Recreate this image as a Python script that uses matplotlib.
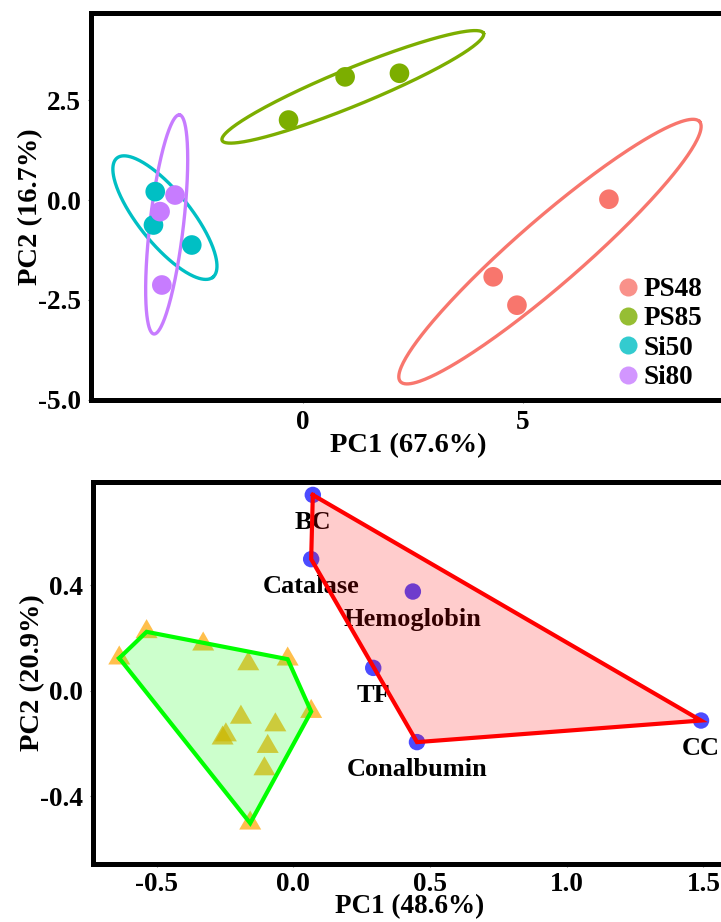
import matplotlib
matplotlib.use("Agg")
import matplotlib.pyplot as plt
from matplotlib.lines import Line2D
import numpy as np

plt.rcParams["font.family"] = ["Liberation Serif", "DejaVu Serif"]
plt.rcParams["font.weight"] = "bold"

# --- PCA of the four particle groups ---
groups = ["PS48", "PS85", "Si50", "Si80"]
group_colors = ["#F8766D", "#7CAE00", "#00BFC4", "#C77CFF"]
pc1 = {
    "PS48": [6.95, 4.32, 4.86],
    "PS85": [-0.33, 0.955, 2.19],
    "Si50": [-3.36, -3.40, -2.53],
    "Si80": [-2.91, -3.25, -3.21],
}
pc2 = {
    "PS48": [0.02, -1.92, -2.63],
    "PS85": [2.00, 3.08, 3.17],
    "Si50": [0.21, -0.625, -1.125],
    "Si80": [0.125, -0.29, -2.125],
}
# confidence ellipses: centre, end of major axis, end of minor axis
ell_center = {"PS48": (5.61, -1.29), "PS85": (1.13, 2.83), "Si50": (-3.14, -0.44), "Si80": (-3.10, -0.61)}
ell_major = {"PS48": (9.01, 1.96), "PS85": (4.10, 4.17), "Si50": (-2.05, -1.93), "Si80": (-2.81, 2.13)}
ell_minor = {"PS48": (5.12, -0.67), "PS85": (0.97, 3.26), "Si50": (-2.68, -0.03), "Si80": (-2.72, -0.65)}

# --- PCA of the protein corona ---
proteins = ["BC", "Catalase", "Hemoglobin", "TF", "Conalbumin", "CC"]
prot_pc1 = [0.071, 0.065, 0.437, 0.292, 0.452, 1.491]
prot_pc2 = [0.744, 0.500, 0.377, 0.087, -0.195, -0.113]
prot_hull = [0, 5, 4, 1]

other_pc1 = [-0.637, -0.537, -0.330, -0.021, -0.165, 0.065, -0.192, -0.066, -0.259, -0.247, -0.094, -0.106, -0.158]
other_pc2 = [0.124, 0.224, 0.177, 0.120, 0.102, -0.079, -0.101, -0.130, -0.180, -0.168, -0.212, -0.297, -0.503]
other_hull = [0, 1, 3, 5, 12]

TICK_FS = 19.5
LABEL_FS = 20.5

fig = plt.figure(figsize=(7.21, 9.22), dpi=100)
ax1 = fig.add_axes([0.1262, 0.5662, 0.8807, 0.4194])
ax2 = fig.add_axes([0.1290, 0.0629, 0.8793, 0.4143])


def style_axes(ax):
    for sp in ax.spines.values():
        sp.set_linewidth(3.6)
        sp.set_color("black")
    ax.tick_params(length=2.5, width=0.8, color="#777777", labelsize=TICK_FS, pad=5)
    for lab in ax.get_xticklabels() + ax.get_yticklabels():
        lab.set_fontweight("bold")


# top panel
t = np.linspace(0, 2 * np.pi, 300)
for g, col in zip(groups, group_colors):
    cx, cy = ell_center[g]
    mx, my = ell_major[g]
    nx, ny = ell_minor[g]
    ex = cx + np.cos(t) * (mx - cx) + np.sin(t) * (nx - cx)
    ey = cy + np.cos(t) * (my - cy) + np.sin(t) * (ny - cy)
    ax1.plot(ex, ey, color=col, lw=2.4, zorder=3)
    ax1.scatter(pc1[g], pc2[g], s=200, color=col, edgecolors="none", zorder=4)

ax1.set_xlim(-4.82, 9.61)
ax1.set_ylim(-5.0, 4.67)
ax1.set_xticks([0, 5])
ax1.set_yticks([-5.0, -2.5, 0.0, 2.5])
ax1.set_yticklabels(["-5.0", "-2.5", "0.0", "2.5"])
ax1.set_xlabel("PC1 (67.6%)", fontsize=LABEL_FS, fontweight="bold", labelpad=-2)
ax1.set_ylabel("PC2 (16.7%)", fontsize=LABEL_FS, fontweight="bold", labelpad=-4)
style_axes(ax1)

handles = [Line2D([], [], ls="none", marker="o", markersize=13, color=c, alpha=0.8, markeredgewidth=0)
           for c in group_colors]
ax1.legend(handles, groups, loc="upper left", bbox_to_anchor=(0.81, 0.353), frameon=False,
           fontsize=TICK_FS, labelspacing=0.16, handlelength=0.7, handletextpad=0.2, borderpad=0)

# bottom panel
tri = [(0, 1), (-0.866, -0.5), (0.866, -0.5)]
ax2.scatter(other_pc1, other_pc2, s=335, marker=tri, color="#FFA500", alpha=0.7, edgecolors="none", zorder=2)
ax2.scatter(prot_pc1, prot_pc2, s=140, color="blue", alpha=0.7, edgecolors="none", zorder=2)
for name, x, y in zip(proteins, prot_pc1, prot_pc2):
    ax2.annotate(name, (x, y), xytext=(0, -20), textcoords="offset points",
                 ha="center", va="center", fontsize=19, fontweight="bold", zorder=3)

hx = [prot_pc1[i] for i in prot_hull]
hy = [prot_pc2[i] for i in prot_hull]
ax2.fill(hx, hy, color="red", alpha=0.2, lw=0, zorder=4)
ax2.plot(hx + hx[:1], hy + hy[:1], color="red", lw=3, zorder=5, solid_joinstyle="miter")

gx = [other_pc1[i] for i in other_hull]
gy = [other_pc2[i] for i in other_hull]
ax2.fill(gx, gy, color="#00FF00", alpha=0.2, lw=0, zorder=4)
ax2.plot(gx + gx[:1], gy + gy[:1], color="#00FF00", lw=3, zorder=5, solid_joinstyle="miter")

ax2.set_xlim(-0.733, 1.586)
ax2.set_ylim(-0.658, 0.793)
ax2.set_xticks([-0.5, 0.0, 0.5, 1.0, 1.5])
ax2.set_xticklabels(["-0.5", "0.0", "0.5", "1.0", "1.5"])
ax2.set_yticks([-0.4, 0.0, 0.4])
ax2.set_yticklabels(["-0.4", "0.0", "0.4"])
ax2.set_xlabel("PC1 (48.6%)", fontsize=19.5, fontweight="bold", labelpad=-2)
ax2.set_ylabel("PC2 (20.9%)", fontsize=LABEL_FS, fontweight="bold", labelpad=-4)
style_axes(ax2)
ax2.tick_params(axis="x", pad=3)

fig.savefig("out.png", dpi=100)
